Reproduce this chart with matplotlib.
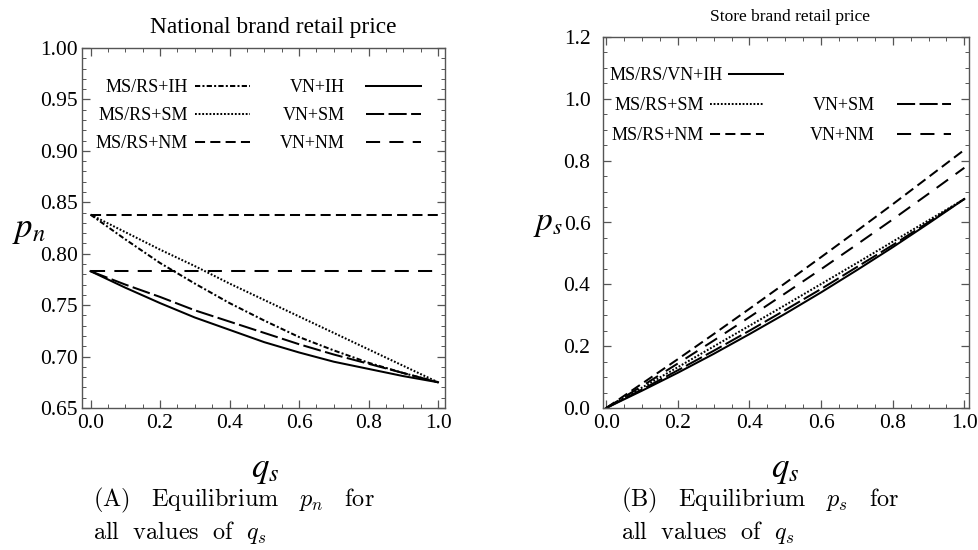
import matplotlib
matplotlib.use("Agg")
import matplotlib.pyplot as plt
from matplotlib.legend import Legend
from matplotlib.ticker import MultipleLocator, FormatStrFormatter

plt.rcParams['font.family'] = ['Liberation Serif', 'DejaVu Serif']
plt.rcParams['mathtext.fontset'] = 'stix'

# ---------------- data ----------------
qs = [0.0, 0.1, 0.2, 0.3, 0.4, 0.5, 0.6, 0.7, 0.8, 0.9, 1.0]

# Panel A: national brand retail price p_n
pn_msrs_ih = [0.838, 0.814, 0.791, 0.771, 0.752, 0.735, 0.719, 0.706, 0.694, 0.684, 0.675]
pn_msrs_sm = [0.838, 0.821, 0.804, 0.788, 0.771, 0.755, 0.739, 0.723, 0.707, 0.691, 0.675]
pn_msrs_nm = [0.838, 0.838, 0.838, 0.838, 0.838, 0.838, 0.838, 0.838, 0.838, 0.838, 0.838]
pn_vn_ih   = [0.783, 0.767, 0.752, 0.738, 0.726, 0.714, 0.704, 0.695, 0.688, 0.681, 0.675]
pn_vn_sm   = [0.783, 0.770, 0.758, 0.745, 0.734, 0.723, 0.712, 0.702, 0.693, 0.684, 0.675]
pn_vn_nm   = [0.783, 0.783, 0.783, 0.783, 0.783, 0.783, 0.783, 0.783, 0.783, 0.783, 0.783]

# Panel B: store brand retail price p_s
ps_all_ih  = [0.0, 0.056, 0.114, 0.175, 0.239, 0.305, 0.374, 0.446, 0.520, 0.597, 0.676]
ps_msrs_sm = [0.0, 0.066, 0.132, 0.199, 0.266, 0.333, 0.401, 0.469, 0.538, 0.607, 0.676]
ps_msrs_nm = [0.0, 0.079, 0.158, 0.239, 0.321, 0.404, 0.488, 0.573, 0.659, 0.747, 0.835]
ps_vn_sm   = [0.0, 0.060, 0.122, 0.185, 0.250, 0.317, 0.385, 0.456, 0.527, 0.601, 0.676]
ps_vn_nm   = [0.0, 0.071, 0.144, 0.218, 0.294, 0.371, 0.449, 0.529, 0.610, 0.693, 0.777]

labels_a = ['MS/RS+IH', 'MS/RS+SM', 'MS/RS+NM', 'VN+IH', 'VN+SM', 'VN+NM']
labels_b = ['MS/RS/VN+IH', 'MS/RS+SM', 'MS/RS+NM', 'VN+SM', 'VN+NM']

# ---------------- styles ----------------
LW = 1.45
STY = {
    'dashdot': (0, (2.6, 1.1, 1.0, 1.1)),
    'dot': (0, (0.9, 0.9)),
    'short': (0, (5.0, 2.6)),
    'solid': '-',
    'long': (0, (9.0, 2.2)),
    'longgap': (0, (7.0, 4.6)),
}
FRAME = '#555555'

fig = plt.figure(figsize=(9.79, 5.5), dpi=100)
axA = fig.add_axes([82/979, 142/550, 363/979, 360/550])
axB = fig.add_axes([603/979, 142/550, 366/979, 371/550])

def style_axes(ax, ypad):
    for s in ax.spines.values():
        s.set_color(FRAME)
        s.set_linewidth(1.0)
    ax.tick_params(which='both', direction='in', top=True, right=True,
                   color=FRAME, labelsize=15.5, labelcolor='black')
    ax.tick_params(which='major', length=6, width=0.9)
    ax.tick_params(which='minor', length=3, width=0.7)
    ax.tick_params(axis='y', pad=ypad)
    ax.tick_params(axis='x', pad=4)

LEG = dict(frameon=False, markerfirst=False, loc='upper left', borderaxespad=0,
           borderpad=0, fontsize=13, handlelength=3.0)

def add_legend(ax, handles, labels, x, y, pad, spacing):
    lg = Legend(ax, handles, labels, bbox_to_anchor=(x, y), handletextpad=pad,
                labelspacing=spacing, **LEG)
    ax.add_artist(lg)

# Panel A
series_a = [pn_msrs_ih, pn_msrs_sm, pn_msrs_nm, pn_vn_ih, pn_vn_sm, pn_vn_nm]
styles_a = ['dashdot', 'dot', 'short', 'solid', 'long', 'longgap']
handles_a = []
for ys, st, lab in zip(series_a, styles_a, labels_a):
    ln, = axA.plot(qs, ys, color='black', lw=LW, linestyle=STY[st], label=lab)
    handles_a.append(ln)
axA.set_xlim(-0.0245, 1.02)
axA.set_ylim(0.65, 1.0)
axA.xaxis.set_major_locator(MultipleLocator(0.2))
axA.xaxis.set_minor_locator(MultipleLocator(0.05))
axA.yaxis.set_major_locator(MultipleLocator(0.05))
axA.yaxis.set_minor_locator(MultipleLocator(0.01))
axA.xaxis.set_major_formatter(FormatStrFormatter('%.1f'))
axA.yaxis.set_major_formatter(FormatStrFormatter('%.2f'))
style_axes(axA, 3)
add_legend(axA, handles_a[:3], labels_a[:3], 0.0386, 0.913, 0.4, 0.6)
add_legend(axA, handles_a[3:], labels_a[3:], 0.545, 0.913, 1.2, 0.6)

# Panel B
series_b = [ps_all_ih, ps_msrs_sm, ps_msrs_nm, ps_vn_sm, ps_vn_nm]
styles_b = ['solid', 'dot', 'short', 'long', 'longgap']
handles_b = []
for ys, st, lab in zip(series_b, styles_b, labels_b):
    ln, = axB.plot(qs, ys, color='black', lw=LW, linestyle=STY[st], label=lab)
    handles_b.append(ln)
axB.set_xlim(-0.009, 1.013)
axB.set_ylim(0.0, 1.2)
axB.xaxis.set_major_locator(MultipleLocator(0.2))
axB.xaxis.set_minor_locator(MultipleLocator(0.05))
axB.yaxis.set_major_locator(MultipleLocator(0.2))
axB.yaxis.set_minor_locator(MultipleLocator(0.05))
axB.xaxis.set_major_formatter(FormatStrFormatter('%.1f'))
axB.yaxis.set_major_formatter(FormatStrFormatter('%.1f'))
style_axes(axB, 9)
add_legend(axB, handles_b[:1], labels_b[:1], 0.019, 0.918, 0.3, 0.7)
add_legend(axB, handles_b[1:3], labels_b[1:3], 0.0246, 0.837, 0.3, 0.7)
add_legend(axB, handles_b[3:], labels_b[3:], 0.566, 0.837, 1.2, 0.7)

# Titles and axis labels
fig.text(273/979, 1 - 27/550, 'National brand retail price', ha='center', va='center', fontsize=16.8)
fig.text(790/979, 1 - 17/550, 'Store brand retail price', ha='center', va='center', fontsize=12.5)
fig.text(29/979, 1 - 229/550, r'$p_n$', ha='center', va='center', fontsize=25)
fig.text(548/979, 1 - 224/550, r'$p_s$', ha='center', va='center', fontsize=24)
fig.text(265/979, 1 - 470/550, r'$q_s$', ha='center', va='center', fontsize=25)
fig.text(785/979, 1 - 470/550, r'$q_s$', ha='center', va='center', fontsize=25)

# Captions
cap = dict(ha='left', va='center', fontsize=17.5, math_fontfamily='cm')
fig.text(93/979, 1 - 500/550, r'$(\mathrm{A})\ \ \ \mathrm{Equilibrium}\ \ \ p_n\ \ \ \mathrm{for}$', **cap)
fig.text(93/979, 1 - 532/550, r'$\mathrm{all\ \ values\ \ of}\ \ q_s$', **cap)
fig.text(621/979, 1 - 500/550, r'$(\mathrm{B})\ \ \ \mathrm{Equilibrium}\ \ \ p_s\ \ \ \mathrm{for}$', **cap)
fig.text(621/979, 1 - 532/550, r'$\mathrm{all\ \ values\ \ of}\ \ q_s$', **cap)

fig.savefig('out.png', dpi=100)
